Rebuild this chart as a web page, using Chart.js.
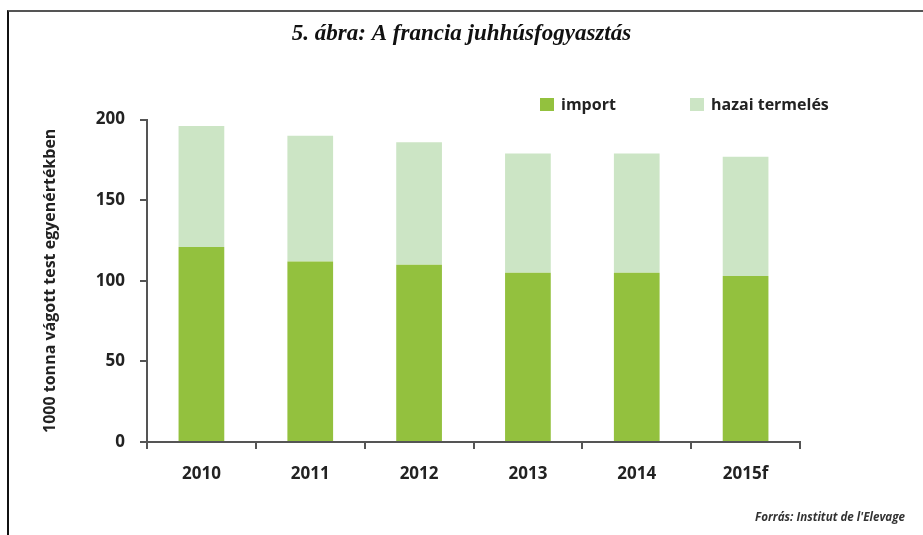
<!DOCTYPE html>
<html>
<head>
<meta charset="utf-8">
<script src="https://cdn.jsdelivr.net/npm/chart.js@4"></script>
<style>
  body { margin: 0; background: #fff; }
  #frame { position: absolute; left: 7px; top: 10px; width: 916px; height: 525px;
           border-top: 2px solid #555; border-left: 2px solid #111; box-sizing: border-box; }
  #wrap { position: absolute; left: 0; top: 0; width: 923px; height: 535px; }
</style>
</head>
<body>
<div id="frame"></div>
<div id="wrap"><canvas id="chart" width="923" height="535"></canvas></div>
<script>
const years = ["2010", "2011", "2012", "2013", "2014", "2015f"];
const importValues = [121, 112, 110, 105, 105, 103];
const hazaiValues = [75, 78, 76, 74, 74, 74];
const yTicks = [0, 50, 100, 150, 200];

const importColor = "#93c13e";
const hazaiColor = "#cce5c5";
const axisColor = "#555";

// legend + source line drawn on the canvas
const extras = {
  id: "extras",
  afterDraw(chart) {
    const ctx = chart.ctx;
    ctx.save();
    const items = [
      { x: 540, label: chart.data.datasets[0].label, color: chart.data.datasets[0].backgroundColor },
      { x: 690, label: chart.data.datasets[1].label, color: chart.data.datasets[1].backgroundColor }
    ];
    ctx.font = "bold 16px 'Open Sans'";
    ctx.textBaseline = "middle";
    items.forEach(it => {
      ctx.fillStyle = it.color;
      ctx.fillRect(it.x, 98, 14, 13);
      ctx.fillStyle = "#222";
      ctx.fillText(it.label, it.x + 21, 105);
    });
    // source, squeezed to the narrow width of the original
    const src = "Forrás: Institut de l'Elevage";
    ctx.font = "italic bold 13px 'Open Sans'";
    const w = ctx.measureText(src).width;
    const sx = 150 / w;
    ctx.translate(905, 517);
    ctx.scale(sx, 1);
    ctx.textAlign = "right";
    ctx.fillStyle = "#333";
    ctx.fillText(src, 0, 0);
    ctx.restore();
  }
};

new Chart(document.getElementById("chart").getContext("2d"), {
  type: "bar",
  data: {
    labels: years,
    datasets: [
      { label: "import", data: importValues, backgroundColor: importColor },
      { label: "hazai termelés", data: hazaiValues, backgroundColor: hazaiColor }
    ]
  },
  options: {
    responsive: false,
    animation: false,
    layout: { padding: 0 },
    datasets: { bar: { barPercentage: 0.42, categoryPercentage: 1 } },
    plugins: {
      legend: { display: false },
      tooltip: { enabled: false },
      title: {
        display: true,
        text: "5. ábra: A francia juhhúsfogyasztás",
        color: "#111",
        font: { family: "'Liberation Serif'", size: 23, style: "italic", weight: "bold", lineHeight: 1.2 },
        padding: { top: 20, bottom: 72 }
      }
    },
    scales: {
      x: {
        stacked: true,
        afterFit: s => { s.height = 93; },
        grid: { offset: true, drawOnChartArea: false, tickLength: 7, color: axisColor, lineWidth: 2 },
        border: { color: axisColor, width: 2 },
        ticks: { color: "#222", padding: 15, font: { family: "'Open Sans'", size: 17, weight: "bold" } }
      },
      y: {
        stacked: true,
        min: 0,
        max: 200,
        afterFit: s => { s.width = 147; },
        afterBuildTicks: s => { s.ticks = yTicks.map(v => ({ value: v })); },
        grid: { drawOnChartArea: false, tickLength: 7, color: axisColor, lineWidth: 2 },
        border: { color: axisColor, width: 2 },
        ticks: { color: "#222", padding: 15, font: { family: "'Open Sans'", size: 17, weight: "bold" } },
        title: {
          display: true,
          text: "1000 tonna vágott test egyenértékben",
          color: "#222",
          font: { family: "'Open Sans'", size: 16, weight: "bold" },
          padding: { top: 41, bottom: 0 }
        }
      },
      yRight: {
        position: "right",
        display: true,
        afterFit: s => { s.width = 123; },
        grid: { display: false },
        border: { display: false },
        ticks: { display: false }
      }
    }
  },
  plugins: [extras]
});
</script>
</body>
</html>
